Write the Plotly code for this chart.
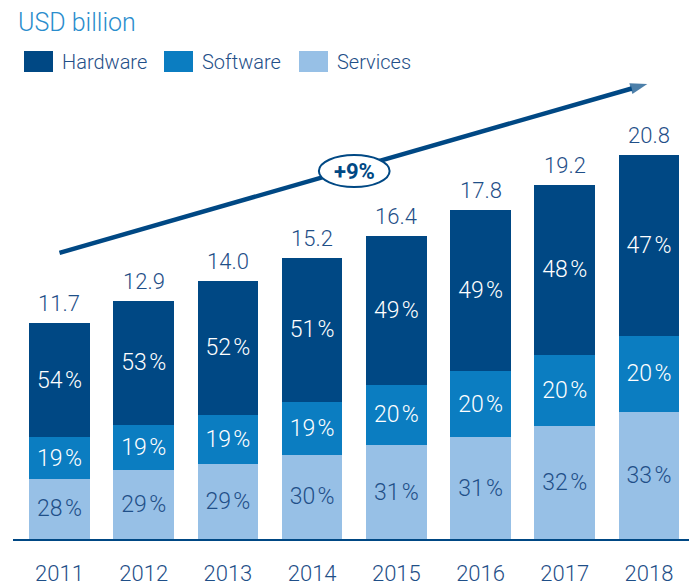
import plotly.graph_objects as go

years = ["2011", "2012", "2013", "2014", "2015", "2016", "2017", "2018"]
totals = [11.7, 12.9, 14.0, 15.2, 16.4, 17.8, 19.2, 20.8]
hardware_pct = [54, 53, 52, 51, 49, 49, 48, 47]
software_pct = [19, 19, 19, 19, 20, 20, 20, 20]
services_pct = [28, 29, 29, 30, 31, 31, 32, 33]
cagr_label = "+9%"

HW = "#004884"
SW = "#0B7DC1"
SV = "#97C0E6"
DARK = "#1F4F88"
TITLE = "#2A8DCD"
FONT = "Roboto"

xs = list(range(len(years)))
services_val = [t * p / 100 for t, p in zip(totals, services_pct)]
software_val = [t * p / 100 for t, p in zip(totals, software_pct)]
hardware_val = [t - s - w for t, s, w in zip(totals, services_val, software_val)]

fig = go.Figure()
for vals, pcts, col, tcol, name in [
    (services_val, services_pct, SV, DARK, "Services"),
    (software_val, software_pct, SW, "white", "Software"),
    (hardware_val, hardware_pct, HW, "white", "Hardware"),
]:
    fig.add_trace(go.Bar(
        x=xs, y=vals, name=name, marker=dict(color=col, line=dict(width=0)),
        width=0.72, customdata=pcts, texttemplate="%{customdata}\u200a%",
        textposition="inside", insidetextanchor="middle", textangle=0,
        textfont=dict(color=tcol, size=23, family=FONT, weight=300),
        showlegend=False, hoverinfo="skip", cliponaxis=False,
    ))

# growth arrow
fig.add_trace(go.Scatter(
    x=[0.0, 6.98], y=[15.5, 24.65], mode="lines+markers",
    line=dict(color=HW, width=4.5),
    marker=dict(symbol=["circle", "arrow"], size=[0, 18], color=HW, angleref="previous",
                line=dict(width=0)),
    showlegend=False, hoverinfo="skip", cliponaxis=False,
))

W, H = 689, 585
L, R, T, B = 13, 0, 0, 46
pw, ph = W - L - R, H - T - B


def px(x):
    return (x - L) / pw


def py(y):
    return (H - B - y) / ph


shapes = []
annotations = []

# totals above bars
for x, t in zip(xs, totals):
    annotations.append(dict(x=x, y=t, xref="x", yref="y", text=f"{t:.1f}", showarrow=False,
                            xanchor="center", yanchor="bottom", yshift=5,
                            font=dict(color=DARK, size=22, family=FONT, weight=300)))

# legend
for (x0, label, col) in [(24, "Hardware", HW), (164, "Software", SW), (299, "Services", SV)]:
    shapes.append(dict(type="rect", xref="paper", yref="paper",
                       x0=px(x0), x1=px(x0 + 29), y0=py(72), y1=py(51),
                       fillcolor=col, line=dict(width=0)))
    annotations.append(dict(xref="paper", yref="paper", x=px(x0 + 36), y=py(62),
                            text=label, showarrow=False, xanchor="left", yanchor="middle",
                            font=dict(color=DARK, size=20, family=FONT, weight=300)))

# title
annotations.append(dict(xref="paper", yref="paper", x=px(16), y=py(22),
                        text="USD billion", showarrow=False, xanchor="left", yanchor="middle",
                        font=dict(color=TITLE, size=25, family=FONT, weight=300)))

shapes.append(dict(type="circle", xref="x", yref="y", x0=3.08, x1=3.92, y0=19.07, y1=20.80,
                   fillcolor="white", line=dict(color=HW, width=2), layer="above"))
annotations.append(dict(x=3.5, y=19.93, xref="x", yref="y", text=f"<b>{cagr_label}</b>",
                        showarrow=False, font=dict(color=HW, size=22, family=FONT)))

fig.update_layout(
    width=W, height=H, margin=dict(l=L, r=R, t=T, b=B, autoexpand=False),
    paper_bgcolor="white", plot_bgcolor="white", barmode="stack",
    shapes=shapes, annotations=annotations,
    font=dict(family=FONT),
)
fig.update_xaxes(range=[-0.552, 7.475], tickmode="array", tickvals=xs, ticktext=years,
                 showgrid=False, zeroline=False, showline=True, linecolor=HW, linewidth=2,
                 ticks="", ticklabelstandoff=14, automargin=False,
                 tickfont=dict(color=DARK, size=22, family=FONT, weight=300))
fig.update_yaxes(range=[0, 29.2], visible=False, showgrid=False, zeroline=False, automargin=False)

fig.write_html("out.html", config={"displayModeBar": False},
               post_script="document.body.style.margin='0px';")
